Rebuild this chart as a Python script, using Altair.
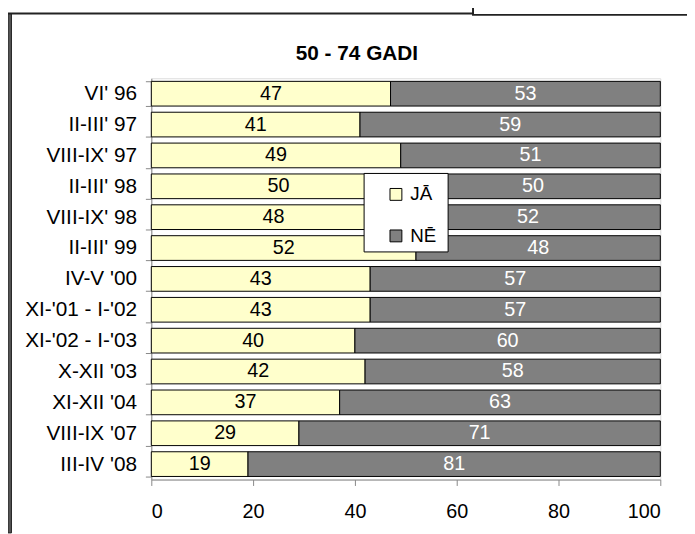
import altair as alt
import pandas as pd

periods = ["VI' 96", "II-III' 97", "VIII-IX' 97", "II-III' 98", "VIII-IX' 98",
           "II-III' 99", "IV-V '00", "XI-'01 - I-'02", "XI-'02 - I-'03",
           "X-XII '03", "XI-XII '04", "VIII-IX '07", "III-IV '08"]
ja = [47, 41, 49, 50, 48, 52, 43, 43, 40, 42, 37, 29, 19]
ne = [53, 59, 51, 50, 52, 48, 57, 57, 60, 58, 63, 71, 81]
categories = ["JĀ", "NĒ"]
colors = ["#FFFFCC", "#808080"]
x_ticks = [0, 20, 40, 60, 80, 100]
title_text = "50 - 74 GADI"

rows = []
for p, a, b in zip(periods, ja, ne):
    rows.append({"period": p, "cat": categories[0], "value": a, "start": 0, "end": a, "mid": a / 2})
    rows.append({"period": p, "cat": categories[1], "value": b, "start": a, "end": a + b, "mid": a + b / 2})
df = pd.DataFrame(rows)

FONT = "Liberation Sans"

y_enc = alt.Y("period:N", sort=periods,
              scale=alt.Scale(paddingInner=0.2, paddingOuter=0.1),
              axis=alt.Axis(title=None, tickBand="extent", labelPadding=9,
                            labelFontSize=21, tickSize=6))
x_scale = alt.Scale(domain=[0, 100], nice=False)

bars = alt.Chart(df).mark_bar(stroke="black", strokeWidth=1).encode(
    y=y_enc,
    x=alt.X("start:Q", scale=x_scale,
            axis=alt.Axis(title=None, values=x_ticks, grid=False, labelPadding=16,
                          labelFontSize=20, tickSize=6)),
    x2="end:Q",
    color=alt.Color("cat:N", sort=categories,
                    scale=alt.Scale(domain=categories, range=colors),
                    legend=alt.Legend(title=None, orient="none", legendX=238, legendY=108,
                                      symbolType="square", symbolSize=144,
                                      symbolStrokeColor="black", symbolStrokeWidth=1,
                                      labelFont=FONT, labelFontSize=19, labelOffset=5,
                                      rowPadding=22, labelColor="black")),
)

labels = alt.Chart(df).mark_text(font=FONT, fontSize=20, baseline="middle").encode(
    y=alt.Y("period:N", sort=periods),
    x=alt.X("mid:Q", scale=x_scale),
    text="value:Q",
    color=alt.condition(alt.datum.cat == categories[0], alt.value("black"), alt.value("white")),
)

one = pd.DataFrame({"k": [0]})
legend_box = alt.Chart(one).mark_rect(fill="white", stroke="black", strokeWidth=1).encode(
    x=alt.value(215.3), x2=alt.value(300.3), y=alt.value(96.3), y2=alt.value(175.7))

title = alt.Chart(one).mark_text(font=FONT, fontSize=21, fontWeight="bold",
                                 baseline="middle", align="center").encode(
    x=alt.value(208), y=alt.value(-24.5), text=alt.value(title_text))

frame_a = alt.Chart(one).mark_rect(color="#222222").encode(
    x=alt.value(-145), x2=alt.value(326.5), y=alt.value(-66.5), y2=alt.value(-64.5))
frame_b = alt.Chart(one).mark_rect(color="#222222").encode(
    x=alt.value(324.5), x2=alt.value(326.5), y=alt.value(-80), y2=alt.value(-64.5))
frame_c = alt.Chart(one).mark_rect(color="#222222").encode(
    x=alt.value(324.5), x2=alt.value(545), y=alt.value(-65), y2=alt.value(-63.3))
frame_d = alt.Chart(one).mark_rect(color="#555555", stroke="#222222", strokeWidth=1).encode(
    x=alt.value(-145), x2=alt.value(-141.5), y=alt.value(-65), y2=alt.value(460))

chart = alt.layer(bars, labels, legend_box, title, frame_a, frame_b, frame_c, frame_d).properties(
    width=515, height=406,
    autosize=alt.AutoSizeParams(type="none"),
    padding={"left": 145, "top": 68, "right": 27, "bottom": 52},
).configure_view(stroke="#808080").configure_axis(
    labelFont=FONT, labelColor="black", domainColor="black", tickColor="black",
).configure(background="white")

chart.save("out.html", embed_options={"renderer": "svg", "actions": False})
